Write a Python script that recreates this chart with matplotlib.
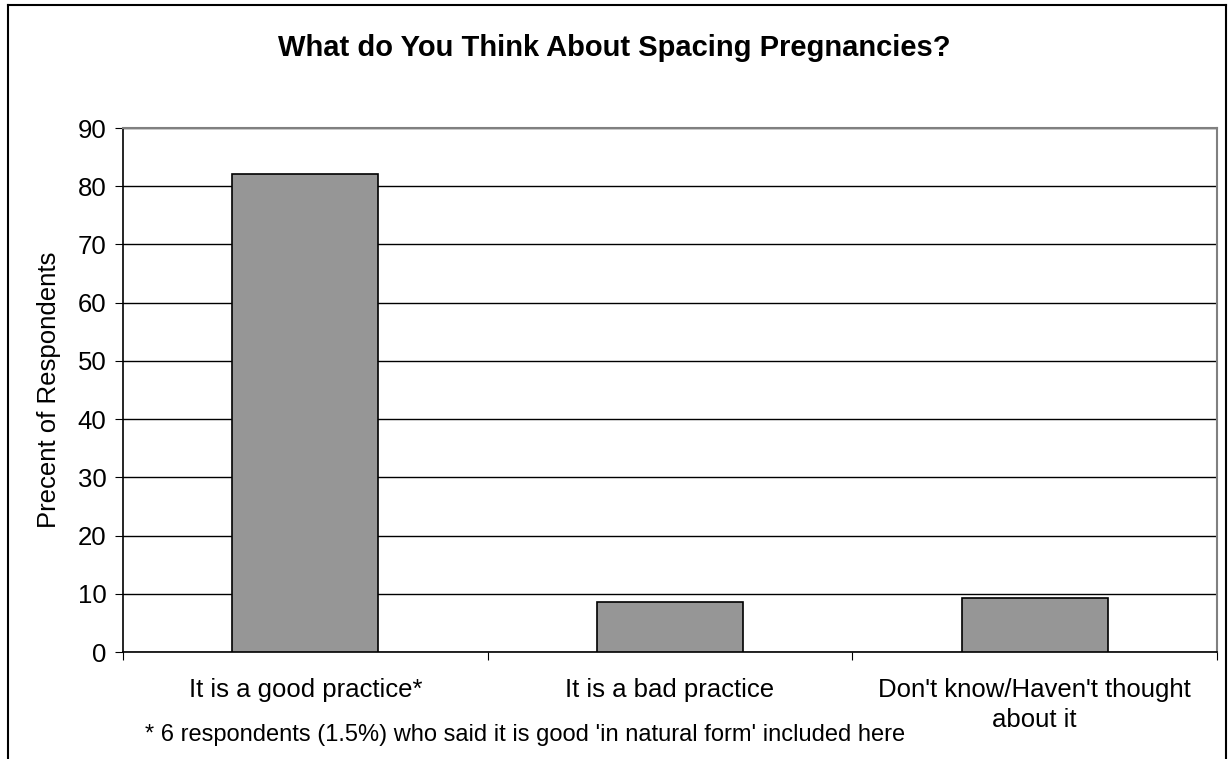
import matplotlib.pyplot as plt
from matplotlib.lines import Line2D

categories = ["It is a good practice*", "It is a bad practice",
              "Don't know/Haven't thought\nabout it"]
values = [82.1, 8.6, 9.2]
yticks = [0, 10, 20, 30, 40, 50, 60, 70, 80, 90]

plt.rcParams['font.family'] = ['Liberation Sans', 'DejaVu Sans']

fig = plt.figure(figsize=(12.28, 7.59), dpi=100)
ax = fig.add_axes([123 / 1228, 1 - 652 / 759, (1217 - 123) / 1228, (652 - 128) / 759])

x = list(range(len(categories)))
ax.bar(x, values, width=0.4, color="#969696", edgecolor="black", linewidth=1.2, zorder=3)

ax.set_xlim(-0.5, 2.5)
ax.set_ylim(0, 90)
ax.set_yticks(yticks)
ax.tick_params(axis='y', labelsize=18.5, length=6, direction='out', color='black', pad=6)
ax.yaxis.grid(True, color='black', linewidth=1)
ax.set_axisbelow(True)

ax.set_xticks([-0.5, 0.5, 1.5, 2.5])
ax.set_xticklabels([])
ax.set_xticks(x, minor=True)
ax.set_xticklabels(categories, minor=True, fontsize=18.5, linespacing=1.3)
ax.tick_params(axis='x', which='major', length=6, color='black')
ax.tick_params(axis='x', which='minor', length=0, pad=19)

for s in ['top', 'right']:
    ax.spines[s].set_color('#808080')
    ax.spines[s].set_linewidth(1.5)
for s in ['left', 'bottom']:
    ax.spines[s].set_color('black')
    ax.spines[s].set_linewidth(1.2)

ax.set_ylabel("Precent of Respondents", fontsize=18.5, labelpad=12)

fig.text(0.5, 1 - 48 / 759, "What do You Think About Spacing Pregnancies?",
         ha='center', va='center', fontsize=21, fontweight='bold')
fig.text(145 / 1228, 1 - 741 / 759,
         "* 6 respondents (1.5%) who said it is good 'in natural form' included here",
         ha='left', va='baseline', fontsize=17)

# outer chart frame (bottom is cut off)
fx0, fx1, fy1 = 8 / 1228, 1226 / 1228, 1 - 5 / 759
for xs, ys in [([fx0, fx0], [0, fy1]), ([fx0, fx1], [fy1, fy1]), ([fx1, fx1], [fy1, 0])]:
    fig.add_artist(Line2D(xs, ys, color='black', linewidth=1.5, transform=fig.transFigure))

fig.savefig("out.png", dpi=100)
